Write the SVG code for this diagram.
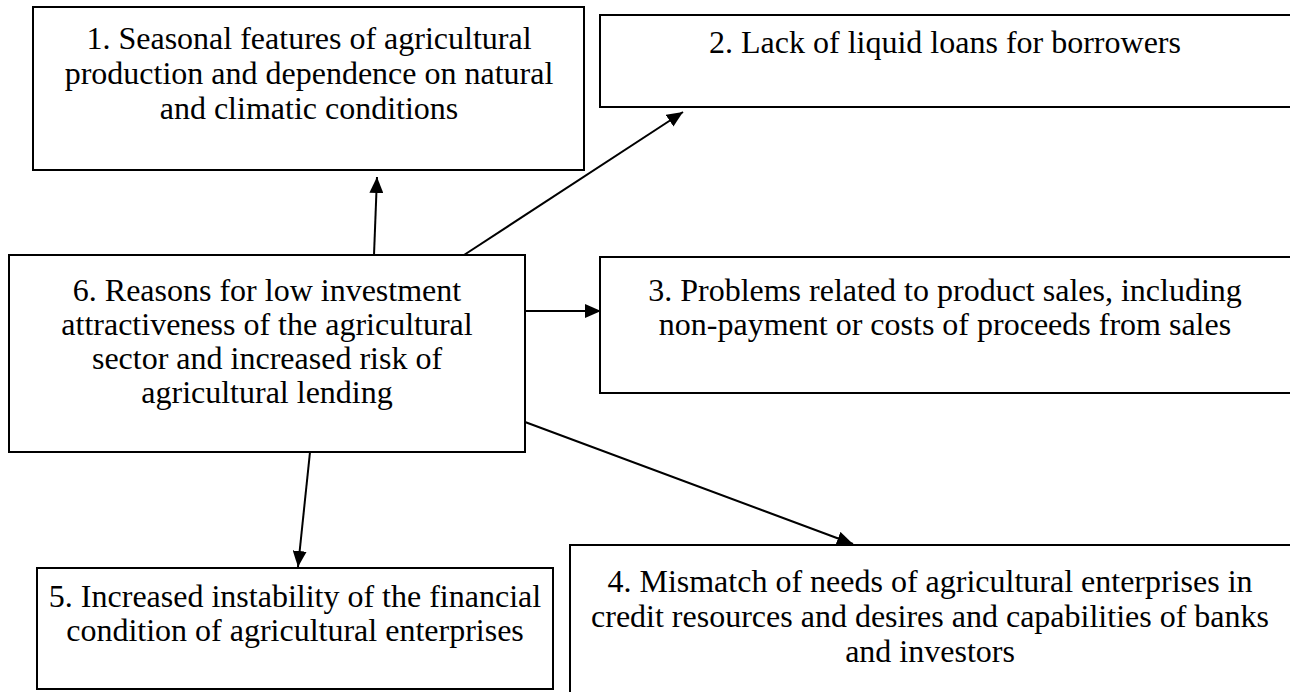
<svg xmlns="http://www.w3.org/2000/svg" width="1290" height="692" viewBox="0 0 1290 692">
  <style>
    .box { fill: #ffffff; stroke: #000000; stroke-width: 2; }
    .label { font-family: "Liberation Serif", "Times New Roman", serif; font-size: 32px; fill: #000000; text-anchor: middle; }
    .link { fill: none; stroke: #000000; stroke-width: 2; marker-end: url(#arrow); }
  </style>
  <defs>
    <marker id="arrow" viewBox="0 0 16 14" refX="16" refY="7" markerWidth="16" markerHeight="14" markerUnits="userSpaceOnUse" orient="auto">
      <path d="M0,0 L16,7 L0,14 Z" fill="#000000"/>
    </marker>
  </defs>
  <rect width="1290" height="692" fill="#ffffff"/>

  <!-- arrows radiate from the central box (6) to the five surrounding boxes -->
  <g id="connectors">
    <line class="link" x1="374" y1="255" x2="377" y2="177"/>
    <line class="link" x1="464" y1="255" x2="683" y2="112"/>
    <line class="link" x1="525" y1="311" x2="601" y2="311"/>
    <line class="link" x1="525" y1="422" x2="853" y2="544"/>
    <line class="link" x1="310" y1="452" x2="298" y2="567"/>
  </g>

  <g id="node1">
    <rect class="box" x="33" y="7" width="551" height="163"/>
    <text class="label" x="309" y="49">1. Seasonal features of agricultural</text>
    <text class="label" x="309" y="84">production and dependence on natural</text>
    <text class="label" x="309" y="119">and climatic conditions</text>
  </g>

  <g id="node2">
    <rect class="box" x="600" y="15" width="700" height="92"/>
    <text class="label" x="945" y="53">2. Lack of liquid loans for borrowers</text>
  </g>

  <g id="node3">
    <rect class="box" x="600" y="257" width="700" height="136"/>
    <text class="label" x="945" y="301">3. Problems related to product sales, including</text>
    <text class="label" x="945" y="335">non-payment or costs of proceeds from sales</text>
  </g>

  <g id="node6">
    <rect class="box" x="9" y="255" width="516" height="197"/>
    <text class="label" x="267" y="301">6. Reasons for low investment</text>
    <text class="label" x="267" y="335">attractiveness of the agricultural</text>
    <text class="label" x="267" y="369">sector and increased risk of</text>
    <text class="label" x="267" y="403">agricultural lending</text>
  </g>

  <g id="node5">
    <rect class="box" x="37" y="568" width="516" height="121"/>
    <text class="label" x="295" y="607">5. Increased instability of the financial</text>
    <text class="label" x="295" y="641">condition of agricultural enterprises</text>
  </g>

  <g id="node4">
    <rect class="box" x="570" y="545" width="730" height="160"/>
    <text class="label" x="930" y="592">4. Mismatch of needs of agricultural enterprises in</text>
    <text class="label" x="930" y="627">credit resources and desires and capabilities of banks</text>
    <text class="label" x="930" y="662">and investors</text>
  </g>
</svg>
